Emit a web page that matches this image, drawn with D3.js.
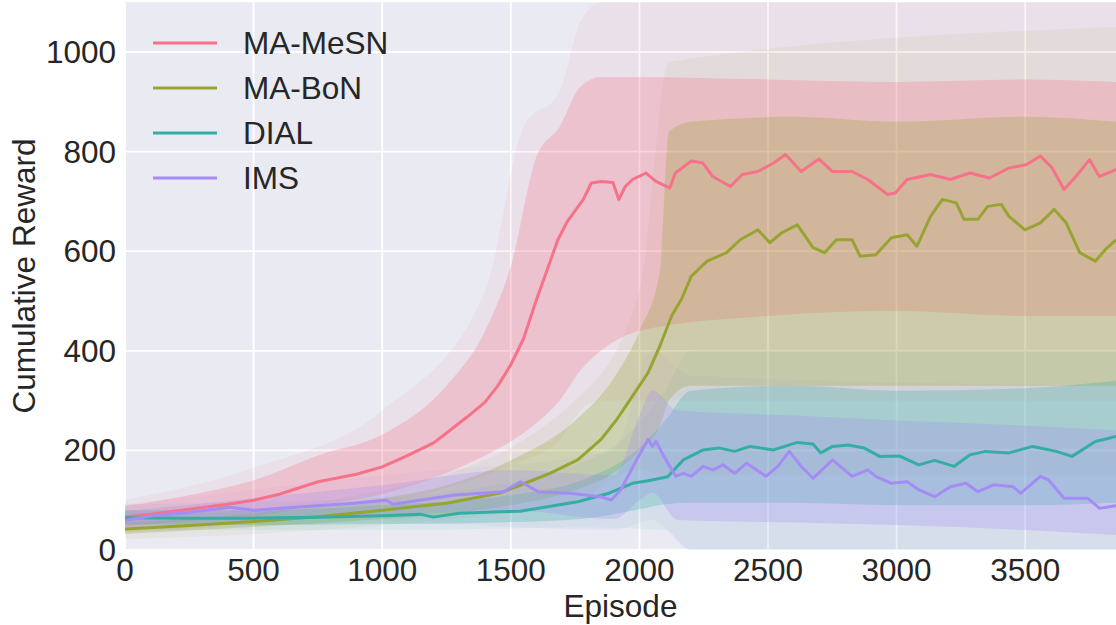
<!DOCTYPE html>
<html>
<head>
<meta charset="utf-8">
<script src="https://cdn.jsdelivr.net/npm/d3@7"></script>
<style>
  body { margin: 0; background: #fff; }
  text { font-family: "Liberation Sans", Arial, sans-serif; fill: #262626; }
</style>
</head>
<body>
<div id="contents"></div>
<script>
// series names and colours (seaborn husl, 4)
var names = ["MA-MeSN", "MA-BoN", "DIAL", "IMS"];
var colors = ["#f77189", "#97a431", "#36ada4", "#a48cf4"];

var xTicks = [0, 500, 1000, 1500, 2000, 2500, 3000, 3500];
var yTicks = [0, 200, 400, 600, 800, 1000];

// mean curves, [episode, reward]
var mesnMean = [[0,66],[100,72],[250,82],[400,92],[500,100],[600,112],[750,137],[900,152],[1000,167],[1100,190],[1200,215],[1250,235],[1330,267],[1400,297],[1450,330],[1500,372],[1550,425],[1600,503],[1650,575],[1683,623],[1720,660],[1782,704],[1813,737],[1850,740],[1897,738],[1920,704],[1945,730],[1973,744],[2026,757],[2064,740],[2118,727],[2140,757],[2202,781],[2247,777],[2285,750],[2354,730],[2400,754],[2461,760],[2522,777],[2568,794],[2629,760],[2698,785],[2751,760],[2827,760],[2888,744],[2965,714],[2995,717],[3041,744],[3132,754],[3209,744],[3285,757],[3361,747],[3437,767],[3506,774],[3559,791],[3605,767],[3651,724],[3697,750],[3750,784],[3788,750],[3853,764]];
var bonMean = [[0,42],[250,49],[500,57],[750,67],[1000,80],[1250,94],[1454,114],[1536,130],[1652,154],[1760,181],[1851,222],[1912,262],[1973,309],[2034,356],[2080,410],[2126,471],[2164,504],[2202,550],[2263,580],[2339,597],[2392,623],[2461,643],[2507,617],[2553,637],[2614,653],[2675,607],[2720,597],[2766,623],[2827,623],[2858,590],[2919,593],[2980,627],[3041,633],[3079,610],[3132,670],[3178,704],[3232,697],[3262,664],[3316,664],[3354,690],[3407,694],[3437,670],[3499,643],[3559,657],[3613,684],[3659,657],[3712,597],[3773,580],[3811,603],[3853,623]];
var dialMean = [[0,65],[250,64],[500,64],[750,66],[1000,69],[1147,72],[1198,66],[1300,74],[1454,77],[1536,78],[1607,84],[1760,97],[1882,114],[1973,134],[2034,139],[2110,147],[2171,181],[2248,201],[2309,205],[2370,198],[2431,208],[2522,201],[2614,216],[2675,213],[2705,195],[2751,208],[2812,211],[2873,205],[2934,188],[3010,189],[3086,171],[3148,180],[3224,168],[3285,191],[3346,198],[3437,195],[3529,208],[3621,198],[3682,188],[3773,218],[3853,228]];
var imsMean = [[0,59],[120,70],[240,75],[408,86],[500,80],[693,87],[887,94],[1016,100],[1042,92],[1276,110],[1471,117],[1538,137],[1607,117],[1729,114],[1851,107],[1890,100],[1928,121],[1989,181],[2034,222],[2050,208],[2065,218],[2095,188],[2141,148],[2171,154],[2202,148],[2248,168],[2286,161],[2324,171],[2370,154],[2416,174],[2446,164],[2492,148],[2538,168],[2583,198],[2629,168],[2675,144],[2751,181],[2827,148],[2888,161],[2919,148],[2980,134],[3041,137],[3086,121],[3148,107],[3209,127],[3270,134],[3316,117],[3377,131],[3453,127],[3483,114],[3559,148],[3590,141],[3651,104],[3743,104],[3788,84],[3853,89]];

// dense part of the spread, [episode, low, high]
var mesnBand = [[0,48,88],[250,58,110],[500,68,140],[750,90,190],[1000,112,232],[1250,155,330],[1400,190,440],[1500,218,570],[1600,255,790],[1690,300,850],[1770,360,930],[1850,400,950],[2000,440,950],[2500,470,945],[3000,480,940],[3500,470,945],[3853,470,940]];
var bonBand = [[0,32,54],[500,46,74],[1000,62,104],[1250,72,130],[1500,90,180],[1750,120,260],[1900,155,345],[2000,200,440],[2080,250,560],[2115,300,840],[2200,330,860],[2600,330,870],[3000,330,860],[3500,330,870],[3853,330,860]];
var dialBand = [[0,52,80],[500,50,80],[1000,52,90],[1500,56,110],[1800,64,145],[2000,82,205],[2100,92,260],[2200,95,320],[2600,95,330],[3000,90,320],[3500,90,325],[3853,95,340]];
var imsBand = [[0,46,78],[500,60,104],[1000,70,130],[1500,80,160],[1900,62,150],[2000,100,270],[2050,115,320],[2150,60,280],[2600,55,270],[3000,50,260],[3500,40,250],[3853,30,240]];

// faint outer spikes, [episode, low, high]
var mesnOuter = [[0,35,100],[500,55,165],[1000,90,280],[1400,150,520],[1550,180,850],[1690,220,920],[1770,280,1060],[1850,300,1100],[3853,300,1100]];
var bonOuter = [[0,22,65],[1000,50,120],[1750,100,300],[2000,160,520],[2115,150,980],[3853,150,1050]];
var dialOuter = [[0,40,92],[1000,40,105],[1800,45,180],[2100,40,320],[2200,0,400],[3853,0,400]];
var imsOuter = [[0,35,92],[1000,55,150],[1900,40,200],[2050,60,400],[2200,0,350],[3853,0,330]];

var means = [mesnMean, bonMean, dialMean, imsMean];
var bands = [mesnBand, bonBand, dialBand, imsBand];
var outers = [mesnOuter, bonOuter, dialOuter, imsOuter];

var width = 1116, height = 625;
var pLeft = 125, pRight = 1116, pTop = 2.2, pBottom = 550;
var fs = 31.5;

var svg = d3.select("#contents").append("svg")
  .attr("width", width).attr("height", height);

var x = d3.scaleLinear().domain([0, 3853]).range([pLeft, pRight]);
var y = d3.scaleLinear().domain([0, 1100]).range([pBottom, pTop]);

svg.append("defs").append("clipPath").attr("id", "clip")
  .append("rect").attr("x", pLeft).attr("y", pTop)
  .attr("width", pRight - pLeft).attr("height", pBottom - pTop);

svg.append("rect").attr("x", pLeft).attr("y", pTop)
  .attr("width", pRight - pLeft).attr("height", pBottom - pTop)
  .attr("fill", "#eaeaf2");

// grid
var grid = svg.append("g");
grid.selectAll(".gx").data(xTicks).enter().append("line")
  .attr("x1", function(d){ return x(d); }).attr("x2", function(d){ return x(d); })
  .attr("y1", pTop).attr("y2", pBottom)
  .attr("stroke", "#fff").attr("stroke-width", 1.8);
grid.selectAll(".gy").data(yTicks).enter().append("line")
  .attr("x1", pLeft).attr("x2", pRight)
  .attr("y1", function(d){ return y(d); }).attr("y2", function(d){ return y(d); })
  .attr("stroke", "#fff").attr("stroke-width", 1.8);

var plot = svg.append("g").attr("clip-path", "url(#clip)");

var area = d3.area()
  .x(function(d){ return x(d[0]); })
  .y0(function(d){ return y(d[1]); })
  .y1(function(d){ return y(d[2]); })
  .curve(d3.curveMonotoneX);

var line = d3.line()
  .x(function(d){ return x(d[0]); })
  .y(function(d){ return y(d[1]); });

outers.forEach(function(b, i){
  plot.append("path").datum(b).attr("d", area)
    .attr("fill", colors[i]).attr("fill-opacity", 0.08);
});
bands.forEach(function(b, i){
  plot.append("path").datum(b).attr("d", area)
    .attr("fill", colors[i]).attr("fill-opacity", 0.27);
});
means.forEach(function(m, i){
  plot.append("path").datum(m).attr("d", line)
    .attr("fill", "none").attr("stroke", colors[i])
    .attr("stroke-width", 3).attr("stroke-linejoin", "round");
});

// tick labels
svg.append("g").selectAll("text").data(xTicks).enter().append("text")
  .attr("x", function(d){ return x(d); }).attr("y", 581)
  .attr("text-anchor", "middle").attr("font-size", fs)
  .text(function(d){ return d; });
svg.append("g").selectAll("text").data(yTicks).enter().append("text")
  .attr("x", 116).attr("y", function(d){ return y(d) + 11; })
  .attr("text-anchor", "end").attr("font-size", fs)
  .text(function(d){ return d; });

// axis labels
svg.append("text").attr("x", (pLeft + pRight) / 2).attr("y", 617)
  .attr("text-anchor", "middle").attr("font-size", fs).text("Episode");
svg.append("text")
  .attr("transform", "translate(35," + (pBottom / 2 + 1) + ") rotate(-90)")
  .attr("text-anchor", "middle").attr("font-size", fs).text("Cumulative Reward");

// legend
var leg = svg.append("g").selectAll("g").data(names).enter().append("g")
  .attr("transform", function(d, i){ return "translate(0," + (43 + i * 45) + ")"; });
leg.append("line").attr("x1", 153).attr("x2", 217)
  .attr("stroke", function(d, i){ return colors[i]; }).attr("stroke-width", 3);
leg.append("text").attr("x", 243).attr("y", 11).attr("font-size", fs)
  .text(function(d){ return d; });
</script>
</body>
</html>
